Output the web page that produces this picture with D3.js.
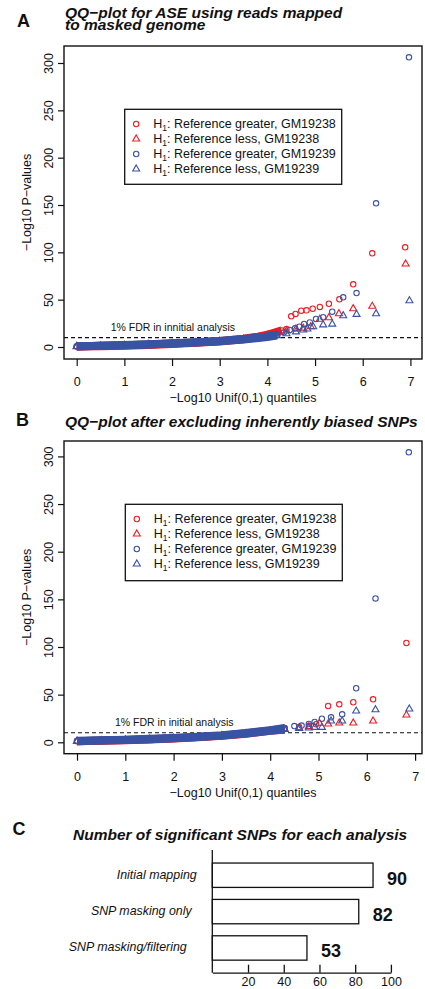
<!DOCTYPE html>
<html>
<head>
<meta charset="utf-8">
<script src="https://cdn.jsdelivr.net/npm/d3@7"></script>
<style>
body { margin: 0; background: #fff; }
text { font-family: "Liberation Sans", Arial, Helvetica, sans-serif; fill: #111; }
</style>
</head>
<body>
<div id="root"></div>
<script>
// ---- data ----
var legendLabels = ["Reference greater, GM19238", "Reference less, GM19238",
    "Reference greater, GM19239", "Reference less, GM19239"];
var qqYTicks = [0, 50, 100, 150, 200, 250, 300];
var qqXTicks = [0, 1, 2, 3, 4, 5, 6, 7];

// panel A : [ -log10 unif quantile, -log10 p ]
var redGreaterA = [[0, 0.6], [0.5, 1.2], [1, 1.8], [1.5, 2.6], [2, 3.6], [2.5, 4.8], [3, 6.3], [3.5, 8.8],
    [3.8, 11], [4, 13], [4.1, 14.5], [4.2, 16], [4.3, 17.5], [4.4, 19],
    [4.50, 32.4], [4.59, 34.9], [4.71, 38.4], [4.82, 38.7], [4.95, 40.5], [5.10, 42.3],
    [5.29, 45.7], [5.51, 50.4], [5.80, 66.2], [6.20, 99], [6.89, 105.3]];
var redLessA = [[0, 0.4], [0.5, 0.9], [1, 1.4], [1.5, 2.2], [2, 3.2], [2.5, 4.4], [3, 5.9], [3.5, 8.2],
    [4, 12], [4.2, 14.5], [4.4, 17], [4.6, 19], [4.75, 20], [4.91, 21.4],
    [5.10, 29.3], [5.29, 31], [5.50, 35.2], [5.80, 40.5], [6.20, 43], [6.90, 87.7]];
var blueGreaterA = [[0, 0.8], [0.5, 1.4], [1, 2.1], [1.5, 2.9], [2, 3.9], [2.5, 5], [3, 6.4], [3.5, 8.4],
    [4, 11], [4.2, 13], [4.35, 15.5], [4.47, 18], [4.58, 19.7], [4.67, 21.4], [4.77, 24.3], [4.89, 26],
    [5.02, 29.6], [5.17, 31.4], [5.36, 37.3], [5.59, 52.5], [5.87, 57], [6.28, 151.8], [6.97, 306]];
var blueLessA = [[0, 0.6], [0.5, 1.2], [1, 1.9], [1.5, 2.7], [2, 3.6], [2.5, 4.7], [3, 6], [3.5, 7.9],
    [4, 10.5], [4.2, 12], [4.4, 14], [4.6, 16], [4.75, 18], [4.84, 19], [4.96, 21.4],
    [5.17, 23.4], [5.36, 24.2], [5.59, 33.1], [5.87, 34.5], [6.28, 35.2], [6.98, 48.9]];

// panel B
var redGreaterB = [[0, 1.2], [0.5, 1.8], [1, 2.5], [1.5, 3.3], [2, 4.3], [2.5, 5.5], [3, 7], [3.5, 9.5],
    [4, 12.5], [4.3, 14.5], [4.6, 16], [4.8, 17], [4.95, 19],
    [5.20, 38.1], [5.43, 39.9], [5.72, 42], [6.13, 45.1], [6.82, 104.2]];
var redLessB = [[0, 1], [0.5, 1.5], [1, 2.2], [1.5, 3], [2, 4], [2.5, 5.2], [3, 6.8], [3.5, 9],
    [4, 12], [4.3, 13.5], [4.6, 15], [4.8, 16.5], [5.02, 20],
    [5.20, 19.3], [5.43, 20.3], [5.72, 20.3], [6.13, 22.4], [6.82, 28.6]];
var blueGreaterB = [[0, 1.5], [0.5, 2.1], [1, 2.8], [1.5, 3.6], [2, 4.6], [2.5, 5.9], [3, 7.5], [3.5, 9.8],
    [4, 12.8], [4.3, 15], [4.5, 17], [4.65, 17.5], [4.80, 19.2], [4.92, 21.3],
    [5.07, 24.8], [5.26, 26.2], [5.49, 29.4], [5.78, 56.7], [6.18, 151], [6.87, 304.3]];
var blueLessB = [[0, 1.2], [0.5, 1.8], [1, 2.5], [1.5, 3.3], [2, 4.3], [2.5, 5.5], [3, 7], [3.5, 9.2],
    [4, 12], [4.3, 13.5], [4.6, 14.5], [4.8, 15], [4.92, 15.7],
    [5.07, 15.7], [5.26, 22.4], [5.49, 22.4], [5.78, 32.8], [6.18, 34.2], [6.88, 35]];

var fdrLevel = 10;

// panel C
var barCategories = ["Initial mapping", "SNP masking only", "SNP masking/filtering"];
var barValues = [90, 82, 53];
var barTicks = [20, 40, 60, 80, 100];

// ---- drawing ----
var red = "#ec1c24",
    blue = "#3953a4",
    bandMax = 4.3; // below this the points overplot into a solid band

var svg = d3.select("#root")
    .append("svg")
    .attr("width", 425)
    .attr("height", 989);

function triangle(s) {
    return "M0," + (-1.555 * s) + "L" + (1.347 * s) + "," + (0.778 * s) +
        "L" + (-1.347 * s) + "," + (0.778 * s) + "Z";
}

var ring = d3.arc()({ innerRadius: 0, outerRadius: 2.7, startAngle: 0, endAngle: 2 * Math.PI });

function qqPanel(o) {
    var x = d3.scaleLinear().domain([0, 7]).range(o.xRange);
    var y = d3.scaleLinear().domain([0, 300]).range(o.yRange);
    var g = svg.append("g");

    // letter + title
    g.append("text").attr("x", o.letterX).attr("y", o.letterY)
        .attr("font-size", 18).attr("font-weight", "bold").text(o.letter);
    o.title.forEach(function (t, i) {
        g.append("text").attr("x", 65).attr("y", o.titleY + i * 12)
            .attr("font-size", 15.5).attr("font-weight", "bold").attr("font-style", "italic")
            .text(t);
    });

    // y axis, labels parallel to axis as in R
    var ya = g.append("g")
        .attr("transform", "translate(64,0)")
        .call(d3.axisLeft(y).tickValues(qqYTicks).tickSize(6).tickSizeOuter(0));
    ya.select(".domain").remove();
    ya.attr("font-size", 12.5);
    ya.selectAll("line").attr("stroke", "#111").attr("stroke-width", 1.2);
    ya.selectAll("text")
        .attr("x", 0).attr("dy", 0)
        .attr("text-anchor", "middle")
        .attr("transform", "translate(-11.5,0) rotate(-90)");

    var xa = g.append("g")
        .attr("transform", "translate(0," + o.bottom + ")")
        .call(d3.axisBottom(x).tickValues(qqXTicks).tickFormat(d3.format("d"))
            .tickSize(7).tickSizeOuter(0));
    xa.select(".domain").remove();
    xa.attr("font-size", 12.5);
    xa.selectAll("line").attr("stroke", "#111").attr("stroke-width", 1.2);
    xa.selectAll("text").attr("y", 27).attr("dy", 0);

    g.append("text")
        .attr("transform", "translate(30.5," + ((o.top + o.bottom) / 2) + ") rotate(-90)")
        .attr("text-anchor", "middle").attr("font-size", 12.5)
        .text("\u2212Log10 P\u2212values");
    g.append("text")
        .attr("x", 243).attr("y", o.bottom + 43)
        .attr("text-anchor", "middle").attr("font-size", 12.5)
        .text("\u2212Log10 Unif(0,1) quantiles");

    // FDR threshold
    g.append("line")
        .attr("x1", 64).attr("x2", 422)
        .attr("y1", y(fdrLevel)).attr("y2", y(fdrLevel))
        .attr("stroke", "#111").attr("stroke-width", 1.2)
        .attr("stroke-dasharray", "4,3");
    g.append("text")
        .attr("x", o.fdrX).attr("y", y(fdrLevel) - 6.5)
        .attr("font-size", 10.5).text(o.fdrText);

    // points
    var band = d3.line()
        .x(function (d) { return x(d[0]); })
        .y(function (d) { return y(d[1]); });

    o.series.forEach(function (s) {
        g.append("path")
            .datum(s.data.filter(function (d) { return d[0] <= bandMax; }))
            .attr("d", band)
            .attr("fill", "none")
            .attr("stroke", s.color)
            .attr("stroke-width", 8);

        g.append("g").selectAll("path")
            .data(s.data)
            .enter()
            .append("path")
            .attr("transform", function (d) {
                return "translate(" + x(d[0]) + "," + y(d[1]) + ")";
            })
            .attr("d", s.shape == "circle" ? ring : triangle(2.6))
            .attr("fill", "none")
            .attr("stroke", s.color)
            .attr("stroke-width", 1.1);
    });

    // box
    g.append("rect")
        .attr("x", 64).attr("y", o.top)
        .attr("width", 358).attr("height", o.bottom - o.top)
        .attr("fill", "none").attr("stroke", "#111").attr("stroke-width", 1.4);

    // legend
    var lg = g.append("g").attr("transform", "translate(" + o.legend[0] + "," + o.legend[1] + ")");
    lg.append("rect")
        .attr("width", 217).attr("height", o.legend[2])
        .attr("fill", "#fff").attr("stroke", "#111").attr("stroke-width", 1.3);
    var row = lg.selectAll(".row")
        .data(o.series)
        .enter().append("g")
        .attr("transform", function (d, i) {
            return "translate(0," + (14.7 + i * 15) + ")";
        });
    row.append("path")
        .attr("transform", "translate(11.5,0)")
        .attr("d", function (d) {
            return d.shape == "circle" ? ring : triangle(2.6);
        })
        .attr("fill", "none")
        .attr("stroke", function (d) { return d.color; })
        .attr("stroke-width", 1.1);
    var lt = row.append("text")
        .attr("x", 28.5).attr("y", 4.4)
        .attr("font-size", 12.5);
    lt.append("tspan").text("H");
    lt.append("tspan").attr("font-size", 8.5).attr("dy", 2.5).text("1");
    lt.append("tspan").attr("dy", -2.5).text(function (d, i) { return ": " + legendLabels[i]; });
}

qqPanel({
    letter: "A", letterX: 17, letterY: 26.7,
    title: ["QQ\u2212plot for ASE using reads mapped", "to masked genome"], titleY: 18.3,
    top: 46, bottom: 359,
    xRange: [76.7, 410.4], yRange: [347, 63],
    fdrX: 110.7, fdrText: "1% FDR in innitial analysis",
    legend: [124.7, 109.3, 75],
    series: [
        { data: redGreaterA, color: red, shape: "circle" },
        { data: redLessA, color: red, shape: "triangle" },
        { data: blueGreaterA, color: blue, shape: "circle" },
        { data: blueLessA, color: blue, shape: "triangle" }
    ]
});

qqPanel({
    letter: "B", letterX: 16, letterY: 425.7,
    title: ["QQ\u2212plot after excluding inherently biased SNPs"], titleY: 427.3,
    top: 441, bottom: 753.7,
    xRange: [77, 415.1], yRange: [742.3, 456.4],
    fdrX: 115, fdrText: "1% FDR in initial analysis",
    legend: [125.3, 504.3, 76.4],
    series: [
        { data: redGreaterB, color: red, shape: "circle" },
        { data: redLessB, color: red, shape: "triangle" },
        { data: blueGreaterB, color: blue, shape: "circle" },
        { data: blueLessB, color: blue, shape: "triangle" }
    ]
});

// ---- panel C: bar chart ----
var c = svg.append("g");
c.append("text").attr("x", 12.5).attr("y", 835)
    .attr("font-size", 18).attr("font-weight", "bold").text("C");
c.append("text").attr("x", 73).attr("y", 840)
    .attr("font-size", 15.5).attr("font-weight", "bold").attr("font-style", "italic")
    .text("Number of significant SNPs for each analysis");

var bx = d3.scaleLinear().domain([0, 100]).range([212.3, 390.9]);
var by = d3.scaleBand().domain(barCategories).range([850.5, 972.7])
    .paddingInner(0.33).paddingOuter(0.345);

c.selectAll(".bar")
    .data(barValues)
    .enter().append("rect")
    .attr("x", bx(0))
    .attr("y", function (d, i) { return by(barCategories[i]); })
    .attr("width", function (d) { return bx(d) - bx(0); })
    .attr("height", by.bandwidth())
    .attr("fill", "#fff")
    .attr("stroke", "#111")
    .attr("stroke-width", 1.3);

c.selectAll(".val")
    .data(barValues)
    .enter().append("text")
    .attr("x", function (d) { return bx(d) + 14; })
    .attr("y", function (d, i) { return by(barCategories[i]) + by.bandwidth() / 2 + 9.5; })
    .attr("font-size", 18).attr("font-weight", "bold")
    .text(function (d) { return d; });

c.selectAll(".cat")
    .data(barCategories)
    .enter().append("text")
    .attr("x", function (d, i) { return 196.7 - i * 5; })
    .attr("y", function (d) { return by(d) + by.bandwidth() / 2 + 3.5; })
    .attr("text-anchor", "end")
    .attr("font-size", 12.4).attr("font-style", "italic")
    .text(function (d) { return d; });

c.append("line")
    .attr("x1", bx(0)).attr("x2", bx(0))
    .attr("y1", 850).attr("y2", 972.7)
    .attr("stroke", "#111").attr("stroke-width", 1.3);

var cx = c.append("g")
    .attr("transform", "translate(0,972.7)")
    .call(d3.axisBottom(bx).tickValues(barTicks).tickSizeInner(-8).tickSizeOuter(0));
cx.attr("font-size", 12.5);
cx.select(".domain").attr("stroke", "#111").attr("stroke-width", 1.3);
cx.selectAll("line").attr("stroke", "#111").attr("stroke-width", 1.3);
cx.selectAll("text").attr("y", 13.5).attr("dy", 0);
</script>
</body>
</html>
